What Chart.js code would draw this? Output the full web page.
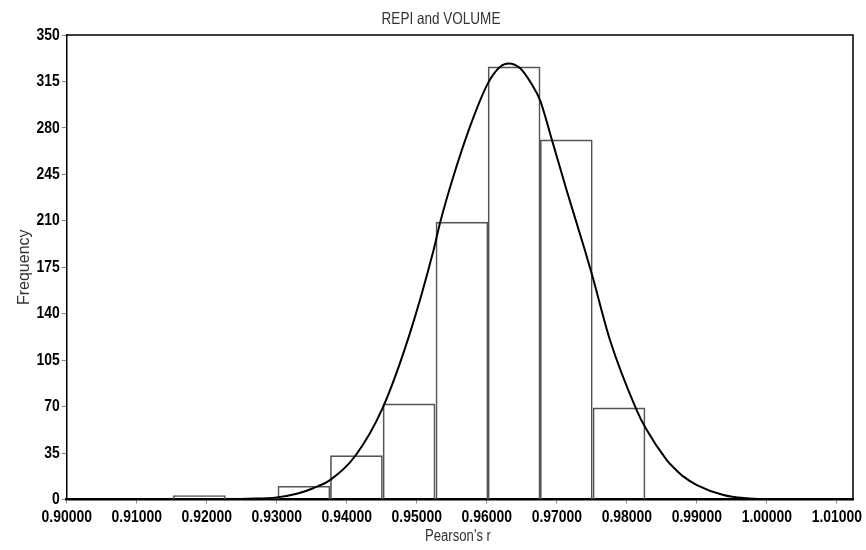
<!DOCTYPE html>
<html lang="en">
<head>
  <meta charset="UTF-8">
  <title>REPI and VOLUME</title>
  <style>
    body { margin: 0; background: #fff; }
    #wrap { position: relative; width: 866px; height: 550px; }
  </style>
</head>
<body>
  <div id="wrap"><canvas id="chart"></canvas></div>

  <script src="https://cdn.jsdelivr.net/npm/chart.js"></script>
  <script>
    // histogram bins (centres) and counts
    const binCenters = [0.91895, 0.92638, 0.93388, 0.94138, 0.94890, 0.95645, 0.96390, 0.97135, 0.97888];
    const frequencies = [3, 1, 10, 33, 72, 209, 326, 271, 69];

    // fitted normal curve
    const curveX = [0.9227, 0.9260, 0.9300, 0.9330, 0.9352, 0.9377, 0.9412, 0.9451, 0.9490, 0.9524, 0.9533, 0.9552,
                    0.9576, 0.9601, 0.9619, 0.9631, 0.9648, 0.9664, 0.9676, 0.9693, 0.9714, 0.9740, 0.9751,
                    0.9776, 0.9814, 0.9827, 0.9857, 0.9867, 0.9880, 0.9900, 0.9938, 0.9971, 1.0006];
    const curveY = [0.3, 0.6, 1.6, 4.5, 8.5, 15, 32.8, 68.7, 125, 188, 208, 243,
                    281, 313, 326, 328.5, 324.7, 313, 301, 271, 233, 188, 168,
                    120, 67.4, 53.6, 29.7, 24.0, 17.6, 10.9, 3.4, 0.9, 0];

    const xTicks = [0.90, 0.91, 0.92, 0.93, 0.94, 0.95, 0.96, 0.97, 0.98, 0.99, 1.00, 1.01];
    const yTicks = [0, 35, 70, 105, 140, 175, 210, 245, 280, 315, 350];

    const FONT = "'Liberation Sans', Arial, sans-serif";

    // narrow text (the original uses a condensed face)
    function narrowText(ctx, text, x, y, font, color, align, squeeze, rotate) {
      ctx.save();
      ctx.font = font;
      ctx.fillStyle = color;
      ctx.textAlign = align;
      ctx.textBaseline = 'middle';
      ctx.translate(x, y);
      if (rotate) ctx.rotate(rotate);
      ctx.scale(squeeze, 1);
      ctx.fillText(text, 0, 0);
      ctx.restore();
    }

    const frameAndText = {
      id: 'frameAndText',
      afterDraw(chart) {
        const { ctx, chartArea: a, scales } = chart;
        ctx.save();
        ctx.strokeStyle = '#000';
        ctx.lineWidth = 1.5;
        ctx.beginPath();
        ctx.moveTo(a.left, a.top);
        ctx.lineTo(a.right, a.top);
        ctx.lineTo(a.right, a.bottom);
        ctx.stroke();
        ctx.restore();

        const tickFont = 'bold 17px ' + FONT;
        xTicks.forEach(v => {
          narrowText(ctx, v.toFixed(5), scales.x.getPixelForValue(v), a.bottom + 18, tickFont, '#000', 'center', 0.82);
        });
        yTicks.forEach(v => {
          narrowText(ctx, String(v), a.left - 7, scales.y.getPixelForValue(v), tickFont, '#000', 'right', 0.82);
        });

        narrowText(ctx, 'REPI and VOLUME', 441, 19, '16.5px ' + FONT, '#333', 'center', 0.82);
        narrowText(ctx, "Pearson's r", 458, 537, '16px ' + FONT, '#333', 'center', 0.82);
        narrowText(ctx, 'Frequency', 25, (a.top + a.bottom) / 2, '16px ' + FONT, '#333', 'center', 1, -Math.PI / 2);
      }
    };

    new Chart(document.getElementById('chart'), {
      type: 'bar',
      data: {
        datasets: [{
          type: 'line',
          data: curveX.map((x, i) => ({ x: x, y: curveY[i] })),
          borderColor: '#000',
          borderWidth: 2,
          pointRadius: 0,
          cubicInterpolationMode: 'monotone',
          order: 0
        }, {
          data: binCenters.map((x, i) => ({ x: x, y: frequencies[i] })),
          backgroundColor: 'rgba(255,255,255,0)',
          borderColor: '#555',
          borderWidth: 1,
          barPercentage: 1,
          categoryPercentage: 1,
          order: 1
        }]
      },
      options: {
        responsive: true,
        maintainAspectRatio: false,
        animation: false,
        layout: { padding: { left: 0, right: 13, top: 35, bottom: 0 } },
        plugins: {
          legend: { display: false },
          tooltip: { enabled: false },
          title: { display: false }
        },
        scales: {
          x: {
            type: 'linear',
            min: 0.9,
            max: 1.0123,
            offset: false,
            afterBuildTicks: s => { s.ticks = xTicks.map(v => ({ value: v })); },
            afterFit: s => { s.height = 50.5; },
            ticks: { display: false },
            grid: { display: true, offset: false, drawOnChartArea: false, drawTicks: true, tickLength: 4, color: '#888' },
            border: { color: '#000', width: 2.5 }
          },
          y: {
            min: 0,
            max: 350,
            afterBuildTicks: s => { s.ticks = yTicks.map(v => ({ value: v })); },
            afterFit: s => { s.width = 66.7; },
            ticks: { display: false },
            grid: { display: true, drawOnChartArea: false, drawTicks: true, tickLength: 5, color: '#888' },
            border: { color: '#000', width: 1.5 }
          }
        }
      },
      plugins: [frameAndText]
    });
  </script>
</body>
</html>
